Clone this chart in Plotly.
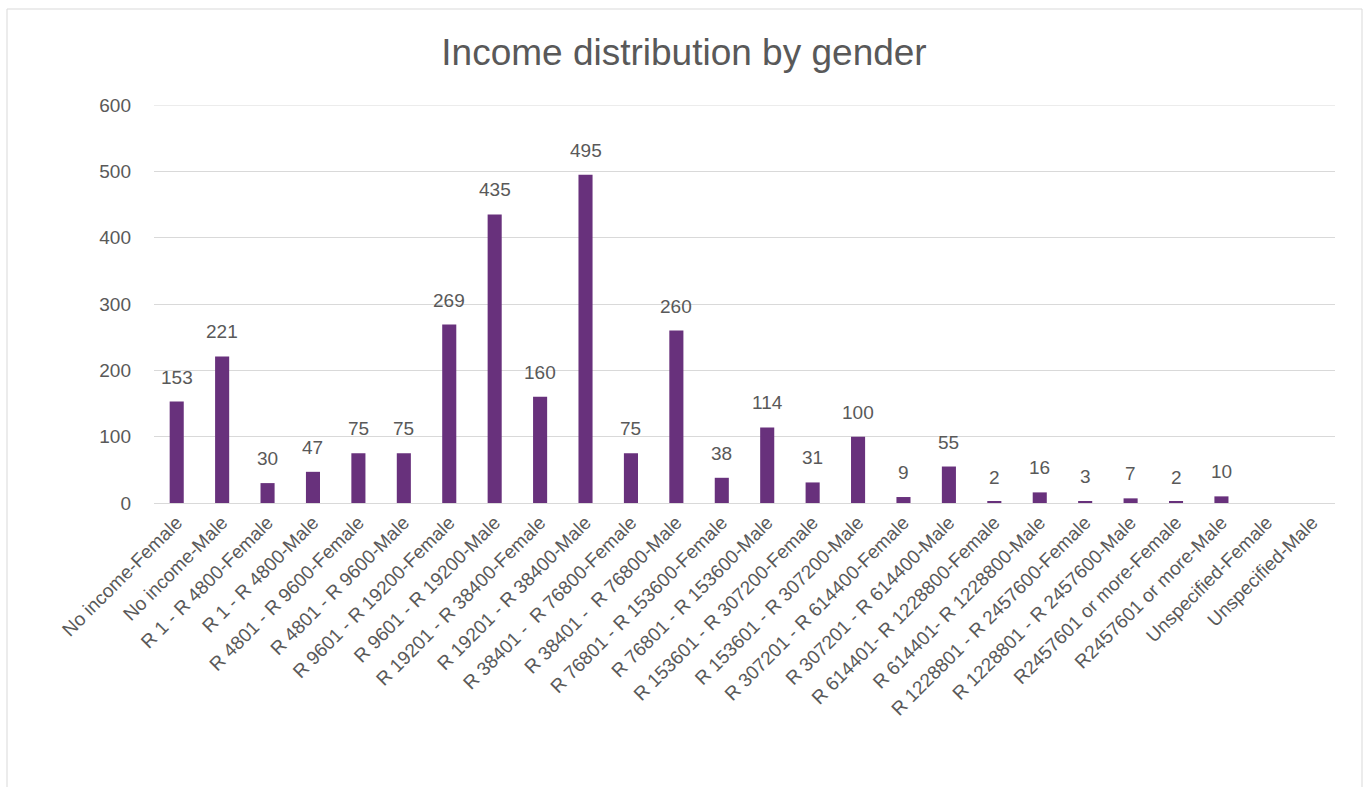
import plotly.graph_objects as go

# Income bands, each split by gender
categories = [
    "No income-Female", "No income-Male",
    "R 1 - R 4800-Female", "R 1 - R 4800-Male",
    "R 4801 - R 9600-Female", "R 4801 - R 9600-Male",
    "R 9601 - R 19200-Female", "R 9601 - R 19200-Male",
    "R 19201 - R 38400-Female", "R 19201 - R 38400-Male",
    "R 38401 -  R 76800-Female", "R 38401 -  R 76800-Male",
    "R 76801 - R 153600-Female", "R 76801 - R 153600-Male",
    "R 153601 - R 307200-Female", "R 153601 - R 307200-Male",
    "R 307201 - R 614400-Female", "R 307201 - R 614400-Male",
    "R 614401- R 1228800-Female", "R 614401- R 1228800-Male",
    "R 1228801 - R 2457600-Female", "R 1228801 - R 2457600-Male",
    "R2457601 or more-Female", "R2457601 or more-Male",
    "Unspecified-Female", "Unspecified-Male",
]
counts = [153, 221, 30, 47, 75, 75, 269, 435, 160, 495, 75, 260,
          38, 114, 31, 100, 9, 55, 2, 16, 3, 7, 2, 10, None, None]
y_ticks = [0, 100, 200, 300, 400, 500, 600]

TEXT = "#595959"
GRID = "#D9D9D9"
FONT = "Liberation Sans, Arial, sans-serif"

xs = list(range(len(categories)))

fig = go.Figure(
    go.Bar(
        x=xs,
        y=counts,
        marker=dict(color="#68317C", line=dict(width=0)),
        cliponaxis=False,
    )
)

# value labels above each bar
for xi, v in zip(xs, counts):
    if v is None:
        continue
    fig.add_annotation(
        x=xi, y=v, text=str(v), showarrow=False,
        xanchor="center", yanchor="bottom", yshift=12,
        font=dict(family=FONT, size=19, color=TEXT),
    )

fig.update_layout(
    width=1368,
    height=787,
    margin=dict(l=154, r=33, t=105, b=284),
    paper_bgcolor="white",
    plot_bgcolor="white",
    bargap=0.69,
    showlegend=False,
    title=dict(
        text="Income distribution by gender",
        x=0.5,
        xanchor="center",
        y=1 - 52 / 787,
        yanchor="middle",
        font=dict(family=FONT, size=37, color=TEXT),
    ),
    font=dict(family=FONT, color=TEXT),
    shapes=[
        # chart area border
        dict(
            type="rect", xref="paper", yref="paper",
            x0=(7 - 154) / 1181, x1=(1362 - 154) / 1181,
            y0=-0.73, y1=(503 - 9) / 398,
            line=dict(color=GRID, width=1),
            fillcolor="rgba(0,0,0,0)", layer="below",
        ),
        # top gridline at the axis maximum
        dict(
            type="line", xref="paper", yref="y",
            x0=0, x1=1, y0=y_ticks[-1], y1=y_ticks[-1],
            line=dict(color=GRID, width=1), layer="below",
        ),
    ],
)

fig.update_xaxes(
    tickmode="array",
    tickvals=xs,
    ticktext=categories,
    tickangle=-45,
    tickfont=dict(family=FONT, size=19, color=TEXT),
    range=[-0.5, len(categories) - 0.5],
    showgrid=False,
    showline=True,
    linecolor=GRID,
    linewidth=1,
    ticks="",
    zeroline=False,
)
fig.update_yaxes(
    range=[0, 600],
    tickvals=y_ticks,
    tickfont=dict(family=FONT, size=19, color=TEXT),
    showgrid=True,
    gridcolor=GRID,
    gridwidth=1,
    zeroline=False,
    showline=False,
    ticks="",
    ticklabelstandoff=22,
)

fig.write_html("out.html")
